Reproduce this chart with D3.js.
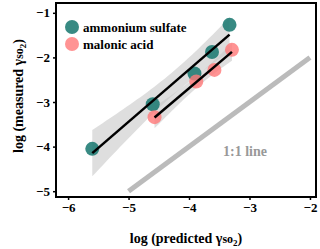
<!DOCTYPE html>
<html>
<head>
<meta charset="utf-8">
<script src="https://cdn.jsdelivr.net/npm/d3@7"></script>
<style>
  body { margin: 0; background: #fff; }
  text { font-family: "Liberation Serif", "Times New Roman", serif; font-weight: bold; }
</style>
</head>
<body>
<script>
// data
const asX = [-5.6, -4.6, -3.91, -3.62, -3.33];
const asY = [-4.05, -3.05, -2.36, -1.88, -1.27];
const maX = [-4.57, -3.88, -3.58, -3.29];
const maY = [-3.34, -2.54, -2.28, -1.83];
const xTicks = [-6, -5, -4, -3, -2];
const yTicks = [-1, -2, -3, -4, -5];
const oneToOne = [-5, -2];

const W = 320, H = 249;
const pLeft = 56, pRight = 316, pTop = 3, pBottom = 197;

const svg = d3.select("body").append("svg")
  .attr("width", W).attr("height", H);

const x = d3.scaleLinear().domain([-6.2, -1.9]).range([pLeft, pRight]);
const y = d3.scaleLinear().domain([-5.13, -0.78]).range([pBottom, pTop]);

// linear fit + 95% band
function fit(xs, ys, t) {
  const n = xs.length;
  const mx = d3.mean(xs), my = d3.mean(ys);
  let sxx = 0, sxy = 0;
  xs.forEach((v, i) => { sxx += (v - mx) ** 2; sxy += (v - mx) * (ys[i] - my); });
  const b = sxy / sxx, a = my - b * mx;
  let sse = 0;
  xs.forEach((v, i) => { sse += (ys[i] - (a + b * v)) ** 2; });
  const s = Math.sqrt(sse / (n - 2));
  const x0 = d3.min(xs), x1 = d3.max(xs);
  return d3.range(0, 41).map(k => {
    const xv = x0 + (x1 - x0) * k / 40;
    const se = s * Math.sqrt(1 / n + (xv - mx) ** 2 / sxx);
    return { x: xv, y: a + b * xv, lo: a + b * xv - t * se, hi: a + b * xv + t * se };
  });
}

const fits = [fit(asX, asY, 3.182), fit(maX, maY, 4.303)];

const area = d3.area().x(d => x(d.x)).y0(d => y(d.lo)).y1(d => y(d.hi));
fits.forEach(f => {
  svg.append("path").attr("d", area(f))
    .attr("fill", "#c8c8c8").attr("opacity", 0.6);
});

// 1:1 line
svg.append("line")
  .attr("x1", x(oneToOne[0])).attr("y1", y(oneToOne[0]))
  .attr("x2", x(oneToOne[1])).attr("y2", y(oneToOne[1]))
  .attr("stroke", "#bbbbbb").attr("stroke-width", 5);

svg.append("text").attr("x", 245).attr("y", 156)
  .attr("text-anchor", "middle").attr("font-size", 14)
  .attr("fill", "#999").text("1:1 line");

// points
svg.selectAll(".as").data(asX).enter().append("circle")
  .attr("cx", d => x(d)).attr("cy", (d, i) => y(asY[i])).attr("r", 7)
  .attr("fill", "#1c7a72").attr("opacity", 0.88);
svg.selectAll(".ma").data(maX).enter().append("circle")
  .attr("cx", d => x(d)).attr("cy", (d, i) => y(maY[i])).attr("r", 7)
  .attr("fill", "#ff7878").attr("opacity", 0.8);

// fit lines
const line = d3.line().x(d => x(d.x)).y(d => y(d.y));
fits.forEach(f => {
  svg.append("path").attr("d", line([f[0], f[f.length - 1]]))
    .attr("fill", "none").attr("stroke", "#000").attr("stroke-width", 2.5);
});

// axes
const fmt = d => d < 0 ? "\u2212" + Math.abs(d) : d;
const gx = svg.append("g").attr("transform", `translate(0,${pBottom})`)
  .call(d3.axisBottom(x).tickValues(xTicks).tickSize(3).tickPadding(3).tickFormat(fmt));
const gy = svg.append("g").attr("transform", `translate(${pLeft},0)`)
  .call(d3.axisLeft(y).tickValues(yTicks).tickSize(3).tickPadding(3).tickFormat(fmt));
[gx, gy].forEach(g => {
  g.select(".domain").remove();
  g.selectAll("text").attr("font-size", 13)
    .attr("font-family", "Liberation Serif, serif").attr("font-weight", "bold").attr("fill", "#000");
  g.selectAll("line").attr("stroke", "#000").attr("stroke-width", 1.5);
});

// frame
svg.append("rect").attr("x", pLeft).attr("y", pTop)
  .attr("width", pRight - pLeft).attr("height", pBottom - pTop)
  .attr("fill", "none").attr("stroke", "#000").attr("stroke-width", 2);

// legend
const legend = [["ammonium sulfate", "#1c7a72", 0.88], ["malonic acid", "#ff7878", 0.8]];
legend.forEach((l, i) => {
  svg.append("circle").attr("cx", 72).attr("cy", 27 + i * 17).attr("r", 7)
    .attr("fill", l[1]).attr("opacity", l[2]);
  svg.append("text").attr("x", 83).attr("y", 31.5 + i * 17)
    .attr("font-size", 13).text(l[0]);
});

// axis titles
const xt = svg.append("text").attr("x", 186).attr("y", 243)
  .attr("text-anchor", "middle").attr("font-size", 14);
xt.append("tspan").text("log (predicted \u03B3");
xt.append("tspan").attr("font-size", 12).text("so");
xt.append("tspan").attr("font-size", 9).attr("dy", 3).text("2");
xt.append("tspan").attr("dy", -3).text(")");

const yt = svg.append("text")
  .attr("transform", "translate(23,96) rotate(-90)")
  .attr("text-anchor", "middle").attr("font-size", 14);
yt.append("tspan").text("log (measured \u03B3");
yt.append("tspan").attr("font-size", 12).text("so");
yt.append("tspan").attr("font-size", 9).attr("dy", 3).text("2");
yt.append("tspan").attr("dy", -3).text(")");
</script>
</body>
</html>
